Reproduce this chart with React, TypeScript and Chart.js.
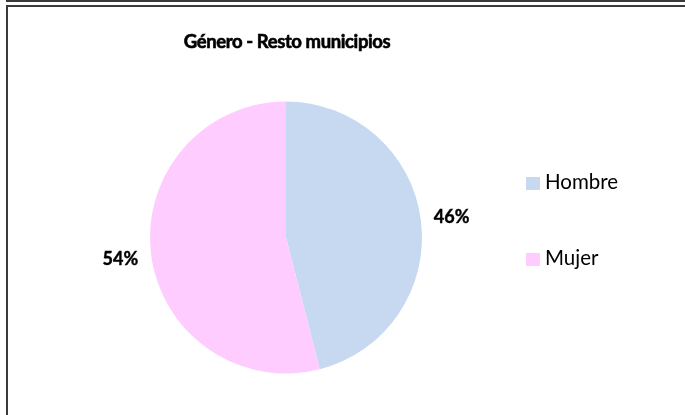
import React, { useEffect, useRef } from "react";
import { Chart, registerables } from "chart.js";

Chart.register(...registerables);

const TITLE = "Género - Resto municipios";
const CATEGORIES = ["Hombre", "Mujer"];
const VALUES = [46, 54];
const COLORS = ["#C6D9F1", "#FFCCFF"];

const FONT = "Lato, 'Open Sans', sans-serif";

const decorPlugin = {
  id: "decor",
  beforeDraw(chart: any) {
    const ctx = chart.ctx;
    ctx.save();
    ctx.fillStyle = "#ffffff";
    ctx.fillRect(0, 0, chart.width, chart.height);
    ctx.strokeStyle = "#3a3a3a";
    ctx.lineWidth = 2;
    ctx.beginPath();
    ctx.moveTo(6, 1);
    ctx.lineTo(chart.width, 1);
    ctx.moveTo(7, chart.height);
    ctx.lineTo(7, 6);
    ctx.lineTo(chart.width, 6);
    ctx.stroke();
    ctx.restore();
  },
  afterDraw(chart: any) {
    const ctx = chart.ctx;
    ctx.save();
    // title
    ctx.fillStyle = "#000";
    ctx.font = `bold 18.5px ${FONT}`;
    (ctx as any).letterSpacing = "-0.4px";
    ctx.textAlign = "center";
    ctx.textBaseline = "alphabetic";
    ctx.fillText(TITLE, 287, 48);
    ctx.lineWidth = 0.6;
    ctx.strokeStyle = "#000";
    ctx.strokeText(TITLE, 287, 48);
    (ctx as any).letterSpacing = "0px";

    // percentage labels
    const meta = chart.getDatasetMeta(0);
    const data = chart.data.datasets[0].data as number[];
    const total = data.reduce((a, b) => a + b, 0);
    ctx.font = `bold 18px ${FONT}`;
    ctx.textBaseline = "middle";
    ctx.lineWidth = 0.4;
    meta.data.forEach((arc: any, i: number) => {
      const p = arc.getProps(["x", "y", "startAngle", "endAngle", "outerRadius"], true);
      const mid = (p.startAngle + p.endAngle) / 2;
      const r = p.outerRadius + 31;
      const x = p.x + Math.cos(mid) * r;
      const y = p.y + Math.sin(mid) * r;
      const t = Math.round((data[i] / total) * 100) + "%";
      ctx.fillText(t, x, y + 1);
      ctx.strokeText(t, x, y + 1);
    });

    // legend
    const labels = chart.data.labels as string[];
    const colors = chart.data.datasets[0].backgroundColor as string[];
    ctx.font = `20.5px ${FONT}`;
    ctx.textAlign = "left";
    ctx.textBaseline = "alphabetic";
    labels.forEach((lab, i) => {
      const y = 177 + i * 76;
      ctx.fillStyle = colors[i];
      ctx.fillRect(526, y, 14, 13);
      ctx.fillStyle = "#000";
      ctx.fillText(lab, 545, y + 12);
    });
    ctx.restore();
  },
};

export default function App() {
  const ref = useRef<HTMLCanvasElement | null>(null);
  useEffect(() => {
    document.body.style.margin = "0";
    const chart = new Chart(ref.current as HTMLCanvasElement, {
      type: "pie",
      data: {
        labels: CATEGORIES,
        datasets: [
          {
            data: VALUES,
            backgroundColor: COLORS,
            borderWidth: 0,
          },
        ],
      },
      options: {
        animation: false,
        responsive: false,
        devicePixelRatio: 1,
        layout: { padding: { left: 150, right: 263, top: 101, bottom: 41 } },
        plugins: {
          legend: { display: false },
          title: { display: false },
          tooltip: { enabled: false },
        },
      },
      plugins: [decorPlugin],
    });
    return () => chart.destroy();
  }, []);
  return (
    <div style={{ position: "fixed", left: 0, top: 0, width: 685, height: 415 }}>
      <canvas ref={ref} width={685} height={415} style={{ width: 685, height: 415 }} />
    </div>
  );
}
